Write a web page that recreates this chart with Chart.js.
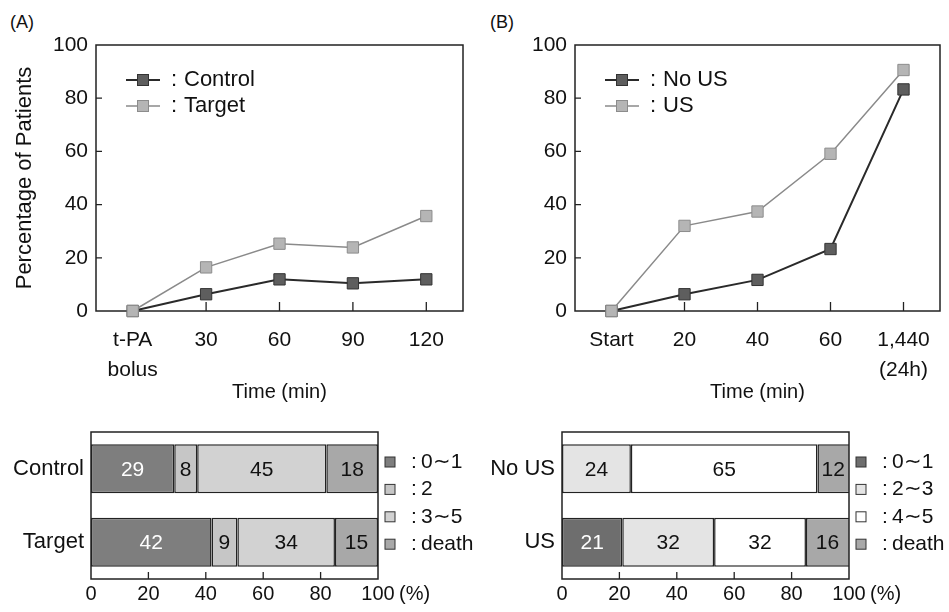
<!DOCTYPE html>
<html>
<head>
<meta charset="utf-8">
<script src="https://cdn.jsdelivr.net/npm/chart.js"></script>
<style>
  body { margin: 0; background: #fff; width: 949px; height: 612px; position: relative; overflow: hidden; }
  canvas { position: absolute; }
  .tag { position: absolute; font: 18px "Liberation Sans", Arial, sans-serif; color: #111; }
</style>
</head>
<body>
<div class="tag" style="left:10px;top:12px">(A)</div>
<div class="tag" style="left:490px;top:12px">(B)</div>
<canvas id="lineA" width="472" height="410" style="left:0;top:0"></canvas>
<canvas id="lineB" width="477" height="410" style="left:472px;top:0"></canvas>
<canvas id="barA" width="480" height="202" style="left:0;top:410px"></canvas>
<canvas id="barB" width="477" height="202" style="left:472px;top:410px"></canvas>
<script>
// data
const timeLabelsA = [['t-PA', 'bolus'], '30', '60', '90', '120'];
const controlPct = [0, 6.3, 11.9, 10.4, 11.9];
const targetPct = [0, 16.4, 25.3, 23.9, 35.7];

const timeLabelsB = ['Start', '20', '40', '60', ['1,440', '(24h)']];
const noUsPct = [0, 6.3, 11.7, 23.3, 83.3];
const usPct = [0, 32, 37.4, 59.1, 90.6];

const groupsA = ['Control', 'Target'];
const gradesA = ['0\u223C1', '2', '3\u223C5', 'death'];
const grade01A = [29, 42];
const grade2A = [8, 9];
const grade35A = [45, 34];
const deathA = [18, 15];

const groupsB = ['No US', 'US'];
const gradesB = ['0\u223C1', '2\u223C3', '4\u223C5', 'death'];
const grade01B = [0, 21];
const grade23B = [24, 32];
const grade45B = [65, 32];
const deathB = [12, 16];

const FONT = '"Liberation Sans", Arial, sans-serif';
Chart.defaults.font.family = FONT;
Chart.defaults.color = '#111';
Chart.defaults.animation = false;

// box around the plot + small inward tick marks
const frame = {
    id: 'frame',
    draw(chart, opts) {
        const { ctx, chartArea: a, scales } = chart;
        ctx.save();
        ctx.strokeStyle = '#222';
        ctx.lineWidth = 1.5;
        ctx.strokeRect(a.left, a.top, a.right - a.left, a.bottom - a.top);
        ctx.lineWidth = 1.3;
        ctx.beginPath();
        const xs = scales.x, ys = scales.y;
        if (opts.xLen) {
            xs.ticks.forEach((t, i) => {
                if (i === 0 || (opts.skipLastX && i === xs.ticks.length - 1)) return;
                const px = xs.getPixelForTick(i);
                ctx.moveTo(px, a.bottom);
                ctx.lineTo(px, a.bottom - opts.xLen);
            });
        }
        if (opts.yLen) {
            ys.ticks.forEach((t, i) => {
                if (i === 0 || i === ys.ticks.length - 1) return;
                const py = ys.getPixelForTick(i);
                ctx.moveTo(a.left, py);
                ctx.lineTo(a.left + opts.yLen, py);
            });
        }
        ctx.stroke();
        ctx.restore();
    },
    beforeDatasetsDraw(chart, args, opts) { if (opts.under) this.draw(chart, opts); },
    afterDatasetsDraw(chart, args, opts) { if (!opts.under) this.draw(chart, opts); }
};

// legend inside the line plots
const lineLegend = {
    id: 'lineLegend',
    afterDraw(chart, args, opts) {
        if (!opts.show) return;
        const { ctx, chartArea: a } = chart;
        ctx.save();
        ctx.font = '22px ' + FONT;
        ctx.textBaseline = 'middle';
        chart.data.datasets.forEach((ds, i) => {
            const x = a.left + 30, y = a.top + 35 + i * 26;
            ctx.strokeStyle = ds.borderColor;
            ctx.lineWidth = ds.borderWidth;
            ctx.beginPath();
            ctx.moveTo(x, y);
            ctx.lineTo(x + 34, y);
            ctx.stroke();
            ctx.fillStyle = ds.pointBackgroundColor;
            ctx.fillRect(x + 11.5, y - 5.5, 11, 11);
            ctx.strokeStyle = ds.pointBorderColor;
            ctx.lineWidth = 1;
            ctx.strokeRect(x + 11.5, y - 5.5, 11, 11);
            ctx.fillStyle = '#111';
            ctx.fillText(':', x + 45, y);
            ctx.fillText(ds.label, x + 58, y);
        });
        ctx.restore();
    }
};

// numbers inside the bars, legend to the right, "(%)" after 100
const barExtras = {
    id: 'barExtras',
    afterDraw(chart, args, opts) {
        if (!opts.show) return;
        const { ctx, chartArea: a } = chart;
        ctx.save();
        ctx.textBaseline = 'middle';
        ctx.textAlign = 'center';
        ctx.font = '21px ' + FONT;
        chart.data.datasets.forEach((ds, di) => {
            chart.getDatasetMeta(di).data.forEach((bar, i) => {
                const v = ds.data[i];
                if (!v) return;
                const c = bar.getCenterPoint();
                ctx.fillStyle = di === 0 ? '#fff' : '#111';
                ctx.fillText(v, Math.min(c.x, (bar.base + a.right) / 2), c.y + 1);
            });
        });
        ctx.textAlign = 'left';
        ctx.font = '21px ' + FONT;
        chart.data.datasets.forEach((ds, i) => {
            const y = a.top + 30 + i * 27.4;
            ctx.fillStyle = ds.backgroundColor;
            ctx.fillRect(a.right + 7, y - 5, 10, 10);
            ctx.strokeStyle = '#333';
            ctx.lineWidth = 1;
            ctx.strokeRect(a.right + 7, y - 5, 10, 10);
            ctx.fillStyle = '#111';
            ctx.fillText(':', a.right + 33, y);
            ctx.fillText(ds.label, a.right + 43, y);
        });
        const xs = chart.scales.x;
        ctx.font = '20px ' + FONT;
        ctx.fillText('(%)', xs.getPixelForValue(100) + 21, a.bottom + 15);
        ctx.restore();
    }
};

Chart.register(frame, lineLegend, barExtras);

function lineDataset(label, data, dark) {
    return {
        label: label,
        data: data,
        borderColor: dark ? '#2a2a2a' : '#8a8a8a',
        borderWidth: dark ? 2 : 1.5,
        pointStyle: 'rect',
        pointRadius: 8,
        pointBorderWidth: 1,
        pointBackgroundColor: dark ? '#5e5e5e' : '#b5b5b5',
        pointBorderColor: dark ? '#333' : '#8c8c8c',
        tension: 0,
        clip: false,
        order: dark ? 2 : 1
    };
}

function lineOptions(yWidth, rightPad, yTitle) {
    return {
        responsive: false,
        layout: { padding: { left: 0, right: rightPad, top: 45, bottom: 0 } },
        plugins: {
            legend: { display: false },
            tooltip: { enabled: false },
            frame: { under: true, xLen: 9, yLen: 6 },
            lineLegend: { show: true }
        },
        scales: {
            x: {
                offset: true,
                grid: { display: false, drawTicks: false },
                border: { display: false },
                ticks: { font: { size: 21, lineHeight: 1.4 }, padding: 15, maxRotation: 0, autoSkip: false },
                title: { display: true, text: 'Time (min)', font: { size: 20 }, padding: { top: 0, bottom: 6 } },
                afterFit(s) { s.height = 99; }
            },
            y: {
                min: 0,
                max: 100,
                grid: { display: false, drawTicks: false },
                border: { display: false },
                ticks: { stepSize: 20, font: { size: 21 }, padding: 8 },
                title: { display: !!yTitle, text: yTitle || '', font: { size: 22 }, padding: { top: 12, bottom: 0 } },
                afterFit(s) { s.width = yWidth; }
            }
        }
    };
}

new Chart(document.getElementById('lineA'), {
    type: 'line',
    data: {
        labels: timeLabelsA,
        datasets: [lineDataset('Control', controlPct, true), lineDataset('Target', targetPct, false)]
    },
    options: lineOptions(96, 6, 'Percentage of Patients')
});

new Chart(document.getElementById('lineB'), {
    type: 'line',
    data: {
        labels: timeLabelsB,
        datasets: [lineDataset('No US', noUsPct, true), lineDataset('US', usPct, false)]
    },
    options: lineOptions(103, 5, '')
});

function barDataset(label, data, color) {
    return {
        label: label,
        data: data,
        backgroundColor: color,
        borderColor: '#222',
        borderWidth: 1.5,
        borderSkipped: false,
        barPercentage: 0.667,
        categoryPercentage: 1
    };
}

function barOptions(yWidth, rightPad) {
    return {
        indexAxis: 'y',
        responsive: false,
        layout: { padding: { left: 0, right: rightPad, top: 22, bottom: 0 } },
        plugins: {
            legend: { display: false },
            tooltip: { enabled: false },
            frame: { under: false, xLen: 7, skipLastX: true },
            barExtras: { show: true }
        },
        scales: {
            x: {
                stacked: true,
                min: 0,
                max: 100,
                grid: { display: false, drawTicks: false },
                border: { display: false },
                ticks: { stepSize: 20, font: { size: 20 }, padding: 3 },
                afterFit(s) { s.height = 33; }
            },
            y: {
                stacked: true,
                grid: { display: false, drawTicks: false },
                border: { display: false },
                ticks: { font: { size: 22 }, padding: 7 },
                afterFit(s) { s.width = yWidth; }
            }
        }
    };
}

new Chart(document.getElementById('barA'), {
    type: 'bar',
    data: {
        labels: groupsA,
        datasets: [
            barDataset(gradesA[0], grade01A, '#7e7e7e'),
            barDataset(gradesA[1], grade2A, '#c6c6c6'),
            barDataset(gradesA[2], grade35A, '#d2d2d2'),
            barDataset(gradesA[3], deathA, '#a8a8a8')
        ]
    },
    options: barOptions(91, 102)
});

new Chart(document.getElementById('barB'), {
    type: 'bar',
    data: {
        labels: groupsB,
        datasets: [
            barDataset(gradesB[0], grade01B, '#6e6e6e'),
            barDataset(gradesB[1], grade23B, '#e4e4e4'),
            barDataset(gradesB[2], grade45B, '#ffffff'),
            barDataset(gradesB[3], deathB, '#a8a8a8')
        ]
    },
    options: barOptions(90, 100)
});
</script>
</body>
</html>
